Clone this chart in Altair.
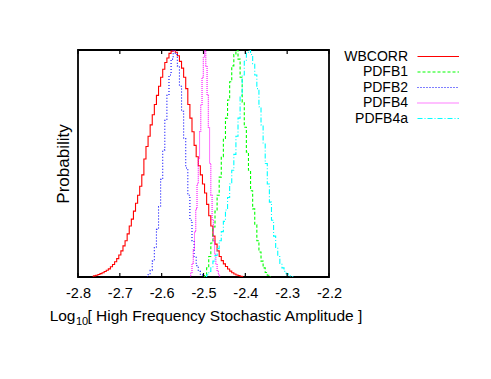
import altair as alt
import pandas as pd

# ---- data (bin centres start/step + normalised histogram heights) ----
series = ["WBCORR", "PDFB1", "PDFB2", "PDFB4", "PDFB4a"]
colors = ["#ff0000", "#00ff00", "#0000ff", "#ff00ff", "#00ffff"]
dashes = [[1, 0], [3, 2], [1, 2], [1, 1], [5, 2, 1, 2]]

wbcorr_start, wbcorr_step = -2.765, 0.005
wbcorr_vals = [0.003, 0.005, 0.008, 0.011, 0.015, 0.019, 0.024, 0.030, 0.036, 0.045,
               0.055, 0.067, 0.081, 0.097, 0.115, 0.137, 0.160, 0.190, 0.225, 0.255,
               0.290, 0.325, 0.360, 0.400, 0.450, 0.520, 0.575, 0.620, 0.670, 0.715,
               0.760, 0.800, 0.840, 0.880, 0.915, 0.945, 0.965, 0.985, 0.995, 1.000,
               0.990, 0.975, 0.950, 0.920, 0.880, 0.830, 0.760, 0.700, 0.640, 0.580,
               0.530, 0.490, 0.450, 0.410, 0.370, 0.320, 0.270, 0.225, 0.180, 0.145,
               0.115, 0.090, 0.072, 0.058, 0.046, 0.035, 0.026, 0.019, 0.013, 0.009,
               0.006, 0.003, 0.001]

pdfb1_start, pdfb1_step = -2.500, 0.005
pdfb1_vals = [0.0, 0.01, 0.04, 0.09, 0.15, 0.22, 0.29, 0.36, 0.44, 0.53, 0.61, 0.70,
              0.78, 0.86, 0.93, 0.98, 1.0, 0.96, 0.88, 0.77, 0.66, 0.55, 0.47, 0.38,
              0.30, 0.23, 0.16, 0.11, 0.07, 0.04, 0.02, 0.008, 0.002]

pdfb2_start, pdfb2_step = -2.635, 0.005
pdfb2_vals = [0.0, 0.01, 0.03, 0.07, 0.13, 0.21, 0.31, 0.43, 0.56, 0.69, 0.80, 0.89,
              0.96, 1.0, 0.98, 0.93, 0.84, 0.73, 0.61, 0.48, 0.36, 0.25, 0.16, 0.09,
              0.05, 0.025, 0.01, 0.003]

pdfb4_start, pdfb4_step = -2.532, 0.003
pdfb4_vals = [0.0, 0.02, 0.06, 0.12, 0.20, 0.30, 0.41, 0.52, 0.64, 0.76, 0.88, 0.97,
              1.0, 0.93, 0.80, 0.66, 0.50, 0.36, 0.25, 0.16, 0.10, 0.055, 0.025, 0.01, 0.0]

pdfb4a_start, pdfb4a_step = -2.495, 0.005
pdfb4a_vals = [0.0, 0.01, 0.025, 0.045, 0.07, 0.095, 0.125, 0.16, 0.20, 0.245, 0.295,
               0.35, 0.41, 0.47, 0.54, 0.62, 0.70, 0.80, 0.89, 0.95, 0.99, 1.0, 0.98,
               0.94, 0.89, 0.83, 0.75, 0.67, 0.59, 0.50, 0.41, 0.33, 0.25, 0.18, 0.13,
               0.09, 0.06, 0.04, 0.025, 0.015, 0.008, 0.004, 0.0]

x_ticks = [-2.8, -2.7, -2.6, -2.5, -2.4, -2.3, -2.2]

# ---- build tables ----
rows = []
for name, start, step, vals in [
    ("WBCORR", wbcorr_start, wbcorr_step, wbcorr_vals),
    ("PDFB1", pdfb1_start, pdfb1_step, pdfb1_vals),
    ("PDFB2", pdfb2_start, pdfb2_step, pdfb2_vals),
    ("PDFB4", pdfb4_start, pdfb4_step, pdfb4_vals),
    ("PDFB4a", pdfb4a_start, pdfb4a_step, pdfb4a_vals),
]:
    for i, v in enumerate(vals):
        rows.append({"series": name, "x": round(start + i * step, 4), "p": v})
df = pd.DataFrame(rows)
leg = pd.DataFrame({"series": series})
ticks = pd.DataFrame({"v": x_ticks})

FONT = "Liberation Sans"
W, H = 251, 227

color_scale = alt.Scale(domain=series, range=colors)
dash_scale = alt.Scale(domain=series, range=dashes)
xscale = alt.Scale(domain=[-2.8, -2.2], nice=False, zero=False)

lines = alt.Chart(df).mark_line(interpolate="step", strokeWidth=1.1, clip=True).encode(
    x=alt.X("x:Q", scale=xscale,
            axis=alt.Axis(values=x_ticks, labelExpr="datum.value + ''", ticks=False,
                          domain=False, grid=False, labelPadding=9, labelFontSize=14.5,
                          labelFont=FONT, labelColor="black", labelFlush=False,
                          labelOverlap=False, title=None)),
    y=alt.Y("p:Q", scale=alt.Scale(domain=[0, 1], nice=False),
            axis=alt.Axis(labels=False, ticks=False, domain=False, grid=False,
                          title="Probability", titleFont=FONT, titleFontSize=17,
                          titleFontWeight="normal", titleColor="black", titlePadding=6)),
    color=alt.Color("series:N", scale=color_scale, legend=None),
    strokeDash=alt.StrokeDash("series:N", scale=dash_scale, legend=None),
    detail="series:N",
)

tick_bot = alt.Chart(ticks).mark_rule(color="black", strokeWidth=1.2).encode(
    x=alt.X("v:Q", scale=xscale), y=alt.value(H), y2=alt.value(H - 4))
tick_top = alt.Chart(ticks).mark_rule(color="black", strokeWidth=1.2).encode(
    x=alt.X("v:Q", scale=xscale), y=alt.value(0), y2=alt.value(4))

leg_y = alt.Y("series:N", scale=alt.Scale(type="point", domain=series, range=[6.5, 68.5],
                                          padding=0), axis=None)
leg_text = alt.Chart(leg).mark_text(align="right", baseline="middle", fontSize=14,
                                    font=FONT, color="black").encode(
    x=alt.value(330), y=leg_y, text="series:N")
leg_line = alt.Chart(leg).mark_rule(strokeWidth=1.1).encode(
    x=alt.value(339.5), x2=alt.value(381), y=leg_y,
    color=alt.Color("series:N", scale=color_scale, legend=None),
    strokeDash=alt.StrokeDash("series:N", scale=dash_scale, legend=None))

title_df = pd.DataFrame({"t": ["Log"], "s": ["10"], "r": ["[ High Frequency Stochastic Amplitude ]"]})
t1 = alt.Chart(title_df).mark_text(align="right", baseline="alphabetic", fontSize=15.5,
                                   font=FONT, color="black").encode(
    x=alt.value(-2.5), y=alt.value(270.5), text="t:N")
t2 = alt.Chart(title_df).mark_text(align="left", baseline="alphabetic", fontSize=11,
                                   font=FONT, color="black").encode(
    x=alt.value(-2), y=alt.value(275), text="s:N")
t3 = alt.Chart(title_df).mark_text(align="left", baseline="alphabetic", fontSize=15.5,
                                   font=FONT, color="black").encode(
    x=alt.value(9.5), y=alt.value(270.5), text="r:N")

chart = alt.layer(lines, tick_bot, tick_top, leg_line, leg_text, t1, t2, t3).resolve_scale(
    y="independent"
).properties(
    width=W, height=H,
    autosize=alt.AutoSizeParams(type="none"),
    padding={"left": 70, "top": 42, "right": 150, "bottom": 100},
).configure(background="white").configure_view(stroke="black", strokeWidth=1.8)

chart.save("out.html", embed_options={"renderer": "svg", "actions": False})
